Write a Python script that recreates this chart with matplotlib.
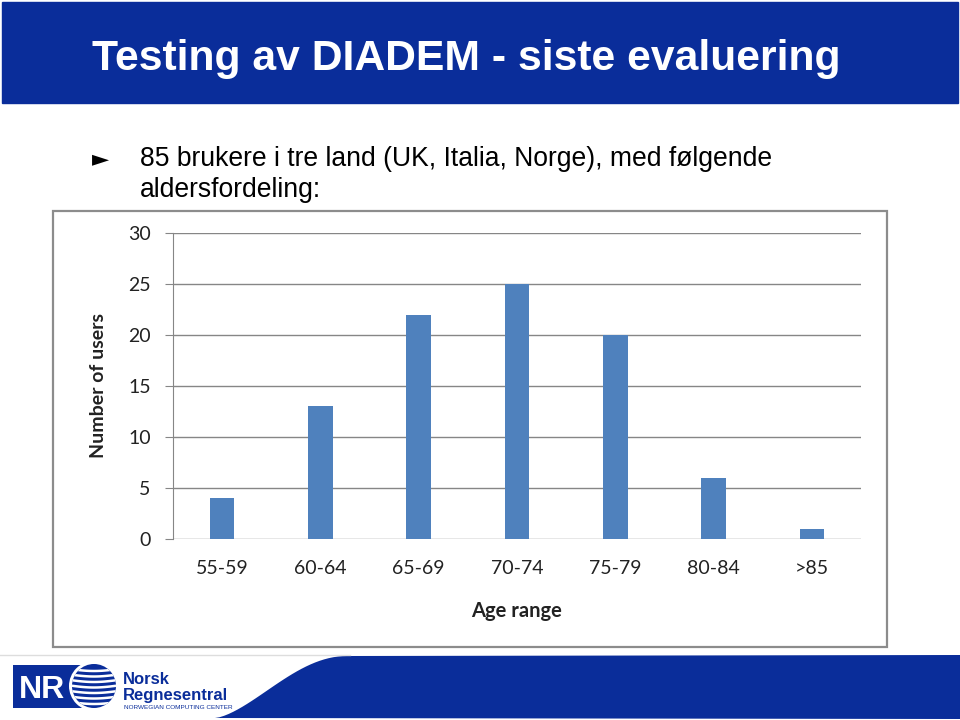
import matplotlib.pyplot as plt
from matplotlib.patches import Rectangle, Polygon, Circle
import numpy as np

age_ranges = ["55-59", "60-64", "65-69", "70-74", "75-79", "80-84", ">85"]
num_users = [4, 13, 22, 25, 20, 6, 1]
y_ticks = [0, 5, 10, 15, 20, 25, 30]

title = "Testing av DIADEM - siste evaluering"
bullet_lines = ["85 brukere i tre land (UK, Italia, Norge), med følgende",
                "aldersfordeling:"]

W, H = 960, 720
blue = "#0a2d9a"
bar_color = "#4f81bd"
grid_color = "#868686"
narrow = ["Liberation Sans Narrow", "Liberation Sans"]

fig = plt.figure(figsize=(W / 100, H / 100), dpi=100)

# background layer in pixel coordinates
bg = fig.add_axes([0, 0, 1, 1])
bg.set_xlim(0, W)
bg.set_ylim(H, 0)
bg.axis("off")

# title banner
bg.add_patch(Rectangle((2, 2), 956, 101, color=blue, zorder=1))
bg.text(92, 70, title, color="white", fontsize=30.7, fontweight="bold",
        family="Liberation Sans", va="baseline", ha="left")

# bullet text
bg.text(92, 165, "\u25ba", fontsize=16, family="DejaVu Sans", va="baseline")
bg.text(140, 166, bullet_lines[0], fontsize=19.1, family="Liberation Sans", va="baseline")
bg.text(140, 197, bullet_lines[1], fontsize=19.1, family="Liberation Sans", va="baseline")

# chart frame
bg.add_patch(Rectangle((53, 211), 834, 436, fill=False, edgecolor="#8c8c8c", lw=1.6))

# footer
bg.plot([0, 350], [655, 655], color="#dddddd", lw=1)
t = np.linspace(0, 1, 30)
curve_x = 215 + 132 * t
curve_y = 718 - 62 * np.sin(t * np.pi / 2) ** 1.5
pts = [(960, 655), (960, 719)] + list(zip(curve_x, curve_y))
bg.add_patch(Polygon(pts, closed=True, color=blue, lw=0))

# logo
bg.add_patch(Rectangle((13, 665), 75, 43, color=blue, lw=0))
bg.text(19, 698, "NR", color="white", fontsize=23, fontweight="bold",
        family=narrow, va="baseline")
bg.add_patch(Circle((94, 686), 25, color="white", lw=0))
circ = Circle((94, 686), 22, color=blue, lw=0)
bg.add_patch(circ)
for yy in np.arange(669, 706, 5.5):
    xs = np.linspace(70, 118, 40)
    ys = yy + 2 * np.sin((xs - 70) / 48 * np.pi)
    ln, = bg.plot(xs, ys, color="white", lw=1.8)
    ln.set_clip_path(circ)
bg.text(123, 684, "Norsk", color=blue, fontsize=12, fontweight="bold",
        family=narrow, va="baseline")
bg.text(123, 700, "Regnesentral", color=blue, fontsize=12, fontweight="bold",
        family=narrow, va="baseline")
bg.text(124, 709, "NORWEGIAN COMPUTING CENTER", color=blue, fontsize=4.6,
        family=narrow, va="baseline")

# the bar chart
ax = fig.add_axes([173 / W, 1 - 539 / H, 688 / W, (539 - 233) / H])
x = np.arange(len(age_ranges))
ax.bar(x, num_users, width=0.25, color=bar_color, zorder=3)
ax.set_xlim(-0.5, len(age_ranges) - 0.5)
ax.set_ylim(0, 30)
ax.set_yticks(y_ticks)
ax.set_xticks(x)
ax.set_xticklabels(age_ranges)
ax.yaxis.grid(True, color=grid_color, lw=1)
for s in ["top", "right", "bottom"]:
    ax.spines[s].set_visible(False)
ax.spines["left"].set_color(grid_color)
ax.tick_params(axis="y", length=6, color=grid_color, labelsize=14, pad=10)
ax.tick_params(axis="x", length=0, labelsize=14, pad=15)
for lab in ax.get_xticklabels() + ax.get_yticklabels():
    lab.set_family("Lato")
    lab.set_color("#222222")

bg.text(98, 386, "Number of users", rotation=90, fontsize=14, fontweight="bold",
        family="Lato", ha="center", va="center", color="#222222")
bg.text(517, 611, "Age range", fontsize=14.5, fontweight="bold",
        family="Lato", ha="center", va="center", color="#222222")

fig.savefig("out.png", dpi=100)
